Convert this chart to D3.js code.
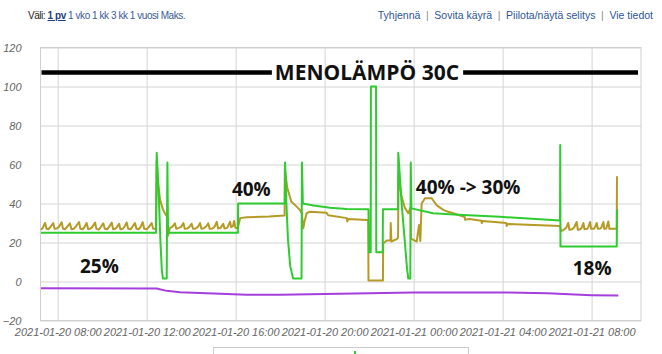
<!DOCTYPE html>
<html>
<head>
<meta charset="utf-8">
<script src="https://cdn.jsdelivr.net/npm/d3@7"></script>
<style>
  body { margin: 0; background: #fff; }
  svg { display: block; font-family: "Liberation Sans", Arial, sans-serif; }
  .grid line { stroke: #d4d4d4; }
  .grid .domain { display: none; }
  .grid text { fill: #666; font-style: italic; font-size: 11px; }
  .note { font-family: "Open Sans", sans-serif; font-weight: bold; fill: #111; }
</style>
</head>
<body>
<script>
// hours after 2021-01-20 00:00, value
const menoGreen = [
  [7.25, 25], [12.42, 25], [12.45, 66], [12.55, 42], [12.62, 20], [12.68, 6], [12.73, 1.5],
  [12.90, 1.5], [12.93, 61], [12.96, 25], [16.10, 25], [16.11, 40], [18.21, 40], [18.22, 61],
  [18.28, 40], [18.35, 22], [18.45, 8], [18.58, 1.5], [18.96, 1.5], [18.98, 61], [19.02, 40],
  [19.5, 39], [20.24, 37.8], [21.0, 37.2], [21.97, 37], [21.99, 15], [22.07, 15], [22.08, 100],
  [22.31, 100], [22.32, 15], [22.61, 15], [22.62, 37], [23.30, 37], [23.31, 66], [23.46, 40],
  [23.61, 19.6], [23.70, 7], [23.76, 1.5], [23.85, 1.5], [23.87, 61], [23.90, 37.5],
  [24.87, 35], [26.0, 34.2], [27.88, 33.2], [30.58, 31.3], [30.59, 70], [30.60, 18],
  [33.13, 18], [33.14, 37]
];

const menoOlive = [
  [7.25, 26.5], [7.33, 27.5], [7.43, 30], [7.50, 27], [7.58, 26.8], [7.66, 27.8], [7.80, 30],
  [7.86, 27], [7.96, 27.2], [8.05, 28], [8.18, 30.3], [8.24, 27], [8.33, 26.8], [8.42, 28],
  [8.55, 29.8], [8.62, 26.8], [8.72, 27], [8.82, 28.3], [8.96, 30.5], [9.02, 27], [9.12, 26.8],
  [9.20, 27.8], [9.30, 30], [9.37, 26.8], [9.47, 27.2], [9.56, 28], [9.68, 30.2], [9.74, 27],
  [9.84, 26.6], [9.93, 27.8], [10.05, 29.8], [10.12, 27], [10.22, 26.8], [10.31, 28], [10.43, 30.2],
  [10.49, 26.8], [10.58, 27], [10.66, 27.8], [10.76, 29.6], [10.82, 26.8], [10.92, 27], [11.0, 28],
  [11.10, 30.3], [11.17, 27], [11.27, 26.8], [11.36, 28], [11.475, 30], [11.54, 27], [11.63, 26.8],
  [11.72, 27.8], [11.82, 30.4], [11.89, 27], [12.0, 26.8], [12.1, 28], [12.225, 30], [12.29, 27],
  [12.42, 27], [12.45, 62], [12.52, 50], [12.60, 42], [12.73, 37], [12.87, 34], [12.93, 33],
  [12.96, 23.5], [13.05, 27.5], [13.15, 28], [13.27, 29.8], [13.33, 27], [13.45, 27.5], [13.55, 28],
  [13.65, 30], [13.71, 27], [13.82, 27.2], [13.92, 28], [14.02, 29.6], [14.08, 27], [14.2, 27.2],
  [14.3, 28], [14.40, 30], [14.46, 27], [14.57, 27.3], [14.67, 28.2], [14.77, 29.8], [14.83, 27],
  [14.95, 27.2], [15.05, 28], [15.15, 30.6], [15.21, 27.2], [15.32, 27.5], [15.44, 29.6], [15.5, 27.2],
  [15.62, 27.5], [15.745, 30.6], [15.8, 27.8], [15.88, 28.5], [15.93, 31], [15.99, 27.5], [16.10, 27.5],
  [16.2, 32.5], [16.5, 33], [17.5, 33.3], [18.2, 33.8], [18.21, 58], [18.32, 48], [18.50, 41],
  [18.74, 38.4], [18.89, 36.7], [18.97, 35], [19.04, 27.3], [19.10, 31], [19.19, 35], [19.34, 35.8],
  [20.09, 35.2], [20.16, 34], [21.00, 32.5], [21.02, 30.8], [21.06, 32], [21.89, 31.5], [21.96, 31.5],
  [21.97, 0.5], [22.62, 0.5], [22.63, 19.5], [22.79, 21], [22.96, 21], [22.97, 30], [23.0, 20.5],
  [23.24, 21.7], [23.30, 22.5], [23.32, 55], [23.45, 44], [23.6, 38], [23.76, 35], [23.86, 38],
  [23.88, 22], [24.14, 20.5], [24.24, 29], [24.30, 20.8], [24.36, 40], [24.51, 42.7], [24.81, 42.7],
  [25.04, 39], [25.3, 37], [25.485, 36], [25.78, 35], [26.30, 33], [26.31, 31.7], [26.5, 32],
  [27.05, 31.2], [27.06, 30], [27.1, 31], [28.17, 30], [28.18, 28.5], [28.25, 29.5], [30.58, 28.5],
  [30.62, 25.8], [30.75, 26.5], [30.85, 27.5], [30.95, 30], [31.0, 26.5], [31.12, 26.8], [31.22, 27.8],
  [31.33, 30.5], [31.38, 26.5], [31.5, 26.8], [31.55, 27.5], [31.63, 30], [31.68, 26.8], [31.8, 27],
  [31.85, 27.8], [31.93, 30.5], [31.98, 27], [32.1, 27], [32.15, 27.8], [32.23, 30], [32.28, 27],
  [32.4, 27.2], [32.45, 28], [32.53, 30.5], [32.57, 27], [32.66, 27.2], [32.75, 30.8], [32.8, 27],
  [33.13, 27], [33.14, 54]
];

const ulkoPurple = [
  [7.25, -3.5], [12.45, -3.6], [12.9, -4.8], [13.5, -5.5], [15, -6.2], [16.5, -6.8], [18, -6.8],
  [20, -6.4], [22, -6.0], [24, -5.7], [26, -5.6], [28, -5.6], [30, -6.0], [31, -6.6], [32, -7.0],
  [33.2, -7.2]
];

const yTicks = [-20, 0, 20, 40, 60, 80, 100, 120];
const rangeLinks = ['Väli: ', '1 pv', ' 1 vko 1 kk 3 kk 1 vuosi Maks.'];
const toolLinks = ['Tyhjennä', 'Sovita käyrä', 'Piilota/näytä selitys', 'Vie tiedot'];

// annotations drawn on the chart: [hour, value, text]
const notes = [
  [9.0, 4.4, '25%'], [15.83, 43.8, '40%'], [24.1, 44.9, '40% -> 30%'], [31.15, 3.3, '18%']
];

const W = 662, H = 354;
const plotL = 40.5, plotR = 641, plotT = 47.5, plotB = 320.5;
const base = new Date(2021, 0, 20).getTime();
const toDate = h => new Date(base + h * 3600e3);

const x = d3.scaleTime().domain([toDate(7.227), toDate(34.22)]).range([plotL, plotR]);
const y = d3.scaleLinear().domain([-20, 120]).range([plotB, plotT]);

const svg = d3.select('body').append('svg').attr('width', W).attr('height', H);

// header: range selector on the left, laid out piece by piece
let hx = 28;
rangeLinks.forEach((t, i) => {
  const el = svg.append('text').attr('x', hx).attr('y', 19)
    .style('font-size', '10px').style('letter-spacing', '-0.45px')
    .style('white-space', 'pre')
    .attr('fill', i === 0 ? '#222' : i === 1 ? '#1f3f7a' : '#3a5a96')
    .attr('font-weight', i === 1 ? 'bold' : null)
    .attr('text-decoration', i === 1 ? 'underline' : null)
    .text(t);
  hx += el.node().getComputedTextLength();
});

// right-hand links, laid out from the right edge
let tx = 653;
toolLinks.slice().reverse().forEach((t, i) => {
  const el = svg.append('text').attr('x', tx).attr('y', 19).attr('text-anchor', 'end')
    .style('font-size', '10.5px').attr('fill', '#2d5596').text(t);
  tx -= el.node().getComputedTextLength();
  if (i < toolLinks.length - 1) {
    svg.append('text').attr('x', tx - 7).attr('y', 19).attr('text-anchor', 'middle')
      .style('font-size', '10.5px').attr('fill', '#888').text('|');
    tx -= 14;
  }
});

// grid + axes
svg.append('g').attr('class', 'grid')
  .attr('transform', `translate(0,${plotB})`)
  .call(d3.axisBottom(x).ticks(d3.timeHour.every(4))
    .tickFormat(d3.timeFormat('%Y-%m-%d %H:%M'))
    .tickSize(-(plotB - plotT)).tickPadding(8));

svg.append('g').attr('class', 'grid')
  .attr('transform', `translate(${plotL},0)`)
  .call(d3.axisLeft(y).tickValues(yTicks).tickSize(-(plotR - plotL)).tickPadding(19));

svg.append('rect').attr('x', plotL).attr('y', plotT)
  .attr('width', plotR - plotL).attr('height', plotB - plotT)
  .attr('fill', 'none').attr('stroke', '#cfcfcf');

const line = d3.line().x(d => x(toDate(d[0]))).y(d => y(d[1]));

[[ulkoPurple, '#a43fdc'], [menoOlive, '#b59a26'], [menoGreen, '#2ecc2e']].forEach(([data, c]) => {
  svg.append('path').datum(data).attr('d', line)
    .attr('fill', 'none').attr('stroke', c).attr('stroke-width', 2)
    .attr('stroke-linejoin', 'round');
});

// title drawn over a thick black line
const ty = 72.5;
const title = svg.append('text').attr('class', 'note')
  .attr('x', 367).attr('y', ty + 7.5).attr('text-anchor', 'middle')
  .style('font-size', '21px').text('MENOLÄMPÖ 30C');
const tw = title.node().getComputedTextLength();
svg.insert('line', '.note').attr('x1', plotL + 1).attr('x2', 367 - tw / 2 - 3)
  .attr('y1', ty).attr('y2', ty).attr('stroke', '#000').attr('stroke-width', 4.5);
svg.insert('line', '.note').attr('x1', 367 + tw / 2 + 4).attr('x2', 638)
  .attr('y1', ty).attr('y2', ty).attr('stroke', '#000').attr('stroke-width', 4.5);

svg.selectAll('text.pct').data(notes).enter().append('text')
  .attr('class', 'note pct')
  .attr('x', d => x(toDate(d[0]))).attr('y', d => y(d[1]))
  .attr('text-anchor', 'start')
  .style('font-size', '19px')
  .text(d => d[2]);

// legend box (cut off at the bottom)
svg.append('rect').attr('x', 213.5).attr('y', 347.5).attr('width', 255).attr('height', 20)
  .attr('fill', '#fff').attr('stroke', '#ccc');
svg.append('line').attr('x1', 355).attr('x2', 355).attr('y1', 351).attr('y2', 354)
  .attr('stroke', '#2ecc2e').attr('stroke-width', 2);
</script>
</body>
</html>
